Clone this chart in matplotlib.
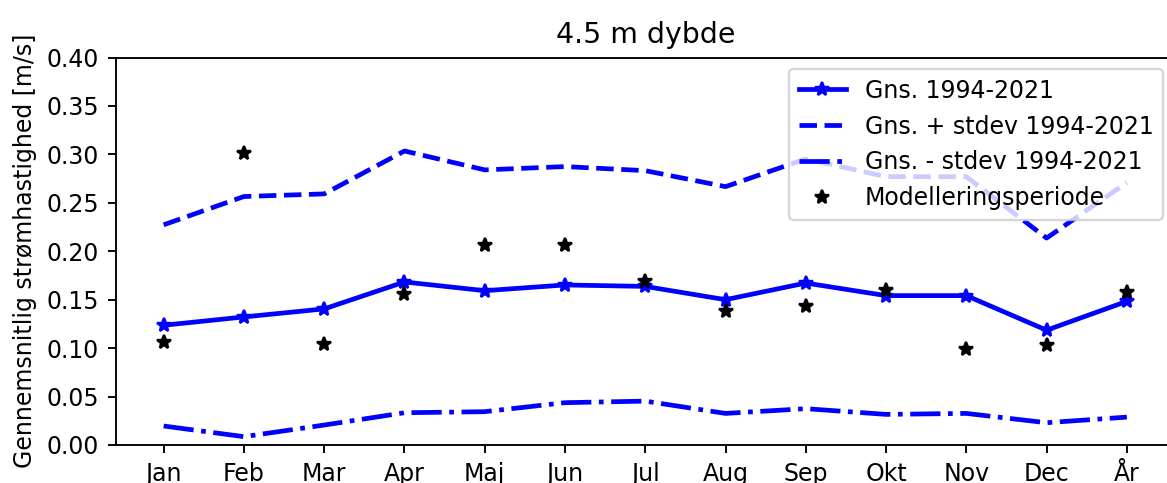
import matplotlib
matplotlib.use("Agg")
import matplotlib.pyplot as plt

months = ["Jan", "Feb", "Mar", "Apr", "Maj", "Jun", "Jul", "Aug", "Sep", "Okt", "Nov", "Dec", "År"]
mean_vals = [0.1236, 0.1322, 0.1405, 0.1683, 0.1593, 0.1652, 0.1637, 0.1500, 0.1672, 0.1542, 0.1542, 0.1185, 0.1483]
upper_vals = [0.2273, 0.2565, 0.2592, 0.3035, 0.2840, 0.2874, 0.2832, 0.2667, 0.2953, 0.2770, 0.2770, 0.2136, 0.2709]
lower_vals = [0.0196, 0.0086, 0.0206, 0.0333, 0.0344, 0.0437, 0.0453, 0.0326, 0.0375, 0.0316, 0.0326, 0.0230, 0.0288]
model_vals = [0.1060, 0.3010, 0.1044, 0.1560, 0.2067, 0.2060, 0.1690, 0.1380, 0.1439, 0.1604, 0.0993, 0.1037, 0.1576]
yticks = [0.0, 0.05, 0.10, 0.15, 0.20, 0.25, 0.30, 0.35, 0.40]

DPI = 170
W, H = 1167, 483
fig = plt.figure(figsize=(W / DPI, H / DPI), dpi=DPI)
ax = fig.add_axes([115.5 / W, (H - 445) / H, (1175 - 115.5) / W, (445 - 57.5) / H])

x = list(range(len(months)))
ax.plot(x, mean_vals, color="blue", linestyle="-", marker="*", markersize=6, linewidth=2, label="Gns. 1994-2021")
ax.plot(x, upper_vals, color="blue", linestyle="--", linewidth=2, label="Gns. + stdev 1994-2021")
ax.plot(x, lower_vals, color="blue", linestyle="-.", linewidth=2, label="Gns. - stdev 1994-2021")
ax.plot(x, model_vals, color="black", linestyle="none", marker="*", markersize=6, label="Modelleringsperiode")

ax.set_xlim(-0.6, 12.6)
ax.set_ylim(0, 0.40)
ax.set_yticks(yticks)
ax.set_yticklabels([f"{v:.2f}" for v in yticks])
ax.set_xticks(x)
ax.set_xticklabels(months)
ax.tick_params(labelsize=10)
ax.set_ylabel("Gennemsnitlig strømhastighed [m/s]", fontsize=10)
ax.set_title("4.5 m dybde", fontsize=12)
ax.legend(loc="upper right", fontsize=10)

fig.savefig("out.png", dpi=DPI)
